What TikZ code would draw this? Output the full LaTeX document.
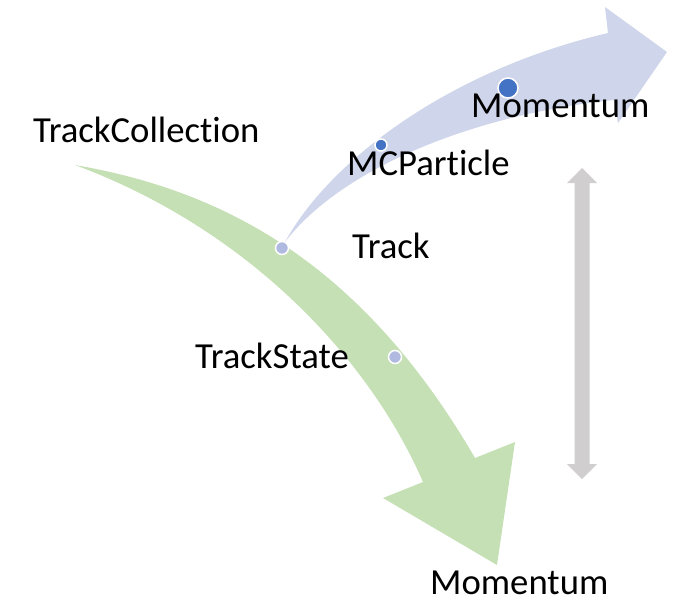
\documentclass[tikz,border=0pt]{standalone}
\usepackage{fontspec}
\setmainfont{Carlito}[RawFeature={-liga;-clig;-calt;-dlig}]
\begin{document}
\begin{tikzpicture}[x=1pt,y=-1pt,
  label/.style={anchor=base west,inner sep=0pt,text depth=0pt,font=\fontsize{36.7}{44}\selectfont},
  bigdot/.style={circle,draw=white,line width=1.5pt,inner sep=0pt}]
\definecolor{greenarrow}{HTML}{C5E0B4}
\definecolor{bluearrow}{HTML}{CFD5EA}
\definecolor{greyarrow}{HTML}{D0CECE}
\definecolor{darkdot}{HTML}{4472C4}
\definecolor{lightdot}{HTML}{B0B9DF}
\useasboundingbox (0,0) rectangle (682,600);

% curved green arrow from the collection down to the momentum
\fill[greenarrow] (75,165) .. controls (220,190) and (360,260) .. (475,458)
  -- (515,442) -- (497,565) -- (383,498) -- (423,482)
  .. controls (370,360) and (250,230) .. (75,165) -- cycle;

% curved blue arrow branching up to the MC momentum
\fill[bluearrow] (285,242) .. controls (330,160) and (450,70) .. (608,33)
  -- (605,7) -- (667,52) -- (618,123) -- (614,100)
  .. controls (470,115) and (340,170) .. (285,242) -- cycle;

% grey double-headed arrow
\fill[greyarrow] (582,168) -- (597,183) -- (589.5,183) -- (589.5,464) -- (597,464)
  -- (582,479) -- (567,464) -- (574.5,464) -- (574.5,183) -- (567,183) -- cycle;

% markers along the arrows
\node[bigdot,fill=lightdot,minimum size=13pt] (dtrack) at (282,248) {};
\node[bigdot,fill=lightdot,minimum size=13pt] (dstate) at (395,357) {};
\node[bigdot,fill=darkdot,minimum size=12pt] (dmc) at (381,145) {};
\node[bigdot,fill=darkdot,minimum size=20pt] (dmom) at (508,88) {};

% labels
\node[label] (tc) at (33,142) {TrackCollection};
\node[label] (mcp) at (347,175) {MCParticle};
\node[label] (trk) at (352,258) {Track};
\node[label] (ts) at (195,368) {TrackState};
\node[label] (momb) at (430,594) {Momentum};
\node[label] (momt) at (471,117) {Momentum};
\end{tikzpicture}
\end{document}
